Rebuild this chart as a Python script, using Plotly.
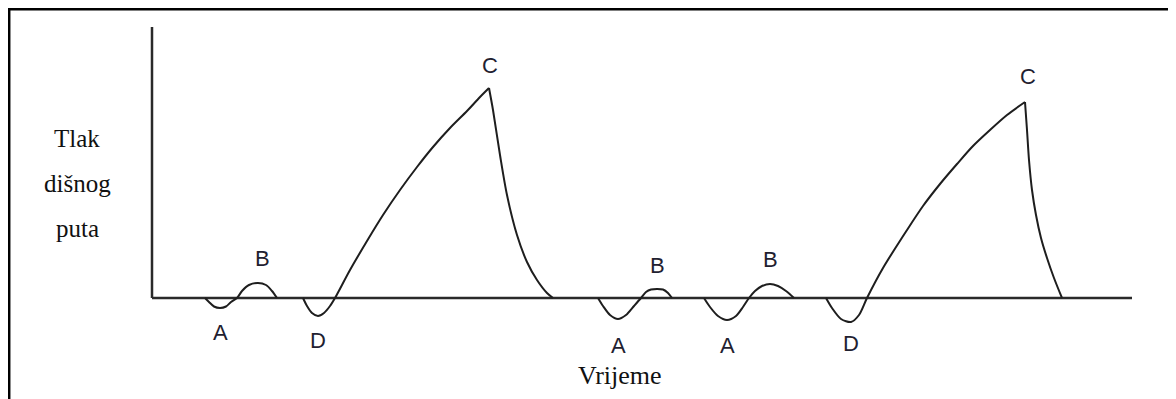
import plotly.graph_objects as go

# Airway pressure vs. time (arbitrary units, baseline = 0).
# Each wave feature is kept as its own small list; flat stretches lie on the time axis.
t_ab1 = [53, 57, 62, 68, 74, 79, 85, 90, 97, 106, 114, 120, 125]
p_ab1 = [0, -4, -8.5, -10, -8.5, -4, 0, 7, 13, 15, 13, 7, 0]

t_rise1 = [151, 155, 160, 166, 172, 178, 183, 198, 215, 231, 248, 265, 281, 298, 315, 328, 337]
p_rise1 = [0, -8, -15, -18, -15, -8, 0, 28, 57, 83, 108, 131, 151, 170, 187, 201, 210]

t_fall1 = [337, 341, 348, 355, 365, 375, 385, 395, 401]
p_fall1 = [210, 188, 143, 103, 63, 36, 18, 5, 0]

t_ab2 = [446, 451, 458, 466, 474, 482, 489, 494, 499, 505, 511, 516, 520]
p_ab2 = [0, -8, -17, -21, -17, -8, 0, 6, 8.5, 9, 8.5, 5, 0]

t_ab3 = [552, 558, 566, 575, 584, 591, 597, 603, 610, 618, 626, 634, 642]
p_ab3 = [0, -9, -18, -22, -18, -9, 0, 7, 12, 14, 12, 7, 0]

t_rise2 = [674, 680, 689, 699, 707, 715, 731, 755, 771, 788, 805, 821, 838, 855, 873]
p_rise2 = [0, -10, -21, -24, -17, 0, 30, 68, 92, 114, 134, 152, 168, 183, 196]

t_fall2 = [873, 875, 877, 880, 884, 889, 895, 902, 910]
p_fall2 = [196, 168, 138, 108, 83, 60, 40, 20, 0]

# Point labels
label_text = ["A", "B", "D", "C", "A", "B", "A", "B", "D", "C"]
label_t = [68, 110, 166, 338, 466, 505, 575, 618, 699, 876]
label_p = [-34, 40, -42, 233, -47, 33, -47, 39, -45, 222]

y_title_lines = ["Tlak", "dišnog", "puta"]
x_title = "Vrijeme"

# axis extents (data units)
x_axis_end = 980
y_axis_top = 271

# The page body adds an 8px margin, so the figure is 8px smaller than the window
W, H = 1168, 391
fig = go.Figure()

curve_color = "#1e1e1e"
segments = [(t_ab1, p_ab1), (t_rise1, p_rise1), (t_fall1, p_fall1),
            (t_ab2, p_ab2), (t_ab3, p_ab3), (t_rise2, p_rise2), (t_fall2, p_fall2)]
for ts, ps in segments:
    fig.add_trace(go.Scatter(x=ts, y=ps, mode="lines",
                             line=dict(color=curve_color, width=2, shape="spline", smoothing=0.8),
                             hoverinfo="skip", showlegend=False))

# axis lines
fig.add_shape(type="line", xref="x", yref="y", x0=0, y0=0, x1=x_axis_end, y1=0,
              line=dict(color="#2a2a2a", width=2.5), layer="below")
fig.add_shape(type="line", xref="x", yref="y", x0=0, y0=0, x1=0, y1=y_axis_top,
              line=dict(color="#2a2a2a", width=2.5), layer="below")

# frame (left and top edges)
fig.add_shape(type="line", xref="paper", yref="paper", x0=1.2/W, y0=0, x1=1.2/W, y1=1-1.2/H,
              line=dict(color="black", width=2.5))
fig.add_shape(type="line", xref="paper", yref="paper", x0=0, y0=1-1.2/H, x1=1, y1=1-1.2/H,
              line=dict(color="black", width=2.5))

for txt, tx, py in zip(label_text, label_t, label_p):
    fig.add_annotation(x=tx, y=py, text=txt, showarrow=False, xref="x", yref="y",
                       font=dict(family="Liberation Sans, Arial, sans-serif", size=22, color="#1f2130"))

for i, line in enumerate(y_title_lines):
    fig.add_annotation(x=-75, y=160 - 45 * i, text=line, showarrow=False, xref="x", yref="y",
                       font=dict(family="Liberation Serif, Times New Roman, serif", size=25, color="#111"))

fig.add_annotation(x=468, y=-77, text=x_title, showarrow=False, xref="x", yref="y",
                   font=dict(family="Liberation Serif, Times New Roman, serif", size=26, color="#111"))

fig.update_layout(
    width=W, height=H,
    margin=dict(l=0, r=0, t=0, b=0),
    paper_bgcolor="white", plot_bgcolor="white",
    showlegend=False,
    xaxis=dict(range=[-144, 1024], visible=False, fixedrange=True),
    yaxis=dict(range=[-101, 290], visible=False, fixedrange=True),
)

fig.write_html("out.html")
